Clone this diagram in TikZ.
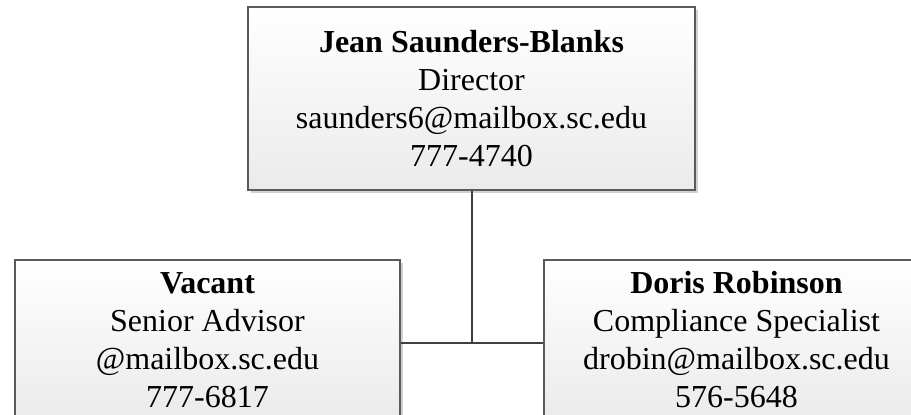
\documentclass[tikz,border=0pt]{standalone}
\usepackage{fontspec}
\setmainfont{Liberation Serif}
\usetikzlibrary{positioning,shadows}

\definecolor{boxline}{HTML}{5A5A5A}
\definecolor{linkline}{HTML}{404040}

\begin{document}
\begin{tikzpicture}[x=1pt, y=1pt,
    person/.style={draw=boxline, line width=1.5pt, rectangle,
      top color=white, bottom color=black!8,
      drop shadow={shadow xshift=3pt, shadow yshift=-3pt, fill=black!18, opacity=1},
      align=center, font=\fontsize{32}{38}\selectfont, inner sep=0pt},
    link/.style={draw=linkline, line width=2pt}]

  \useasboundingbox (0,0) rectangle (911,-415);
  \clip (0,0) rectangle (911,-415);

  \node [person, minimum width=447pt, minimum height=183pt] (director) at (471.5,-98.5)
    {\textbf{Jean Saunders-Blanks}\\Director\\saunders6@mailbox.sc.edu\\777-4740};

  \node [person, minimum width=385pt, minimum height=160pt] (advisor) at (207.5,-340)
    {\textbf{Vacant}\\Senior Advisor\\@mailbox.sc.edu\\777-6817};

  \node [person, minimum width=385pt, minimum height=160pt] (compliance) at (736.5,-340)
    {\textbf{Doris Robinson}\\Compliance Specialist\\drobin@mailbox.sc.edu\\576-5648};

  \coordinate (junction) at ([yshift=-3pt]director.south |- advisor.east) ;

  \path [link] (director.south) -- (junction) ;

  \path [link] (advisor.east |- junction) -- (compliance.west |- junction) ;

\end{tikzpicture}
\end{document}
